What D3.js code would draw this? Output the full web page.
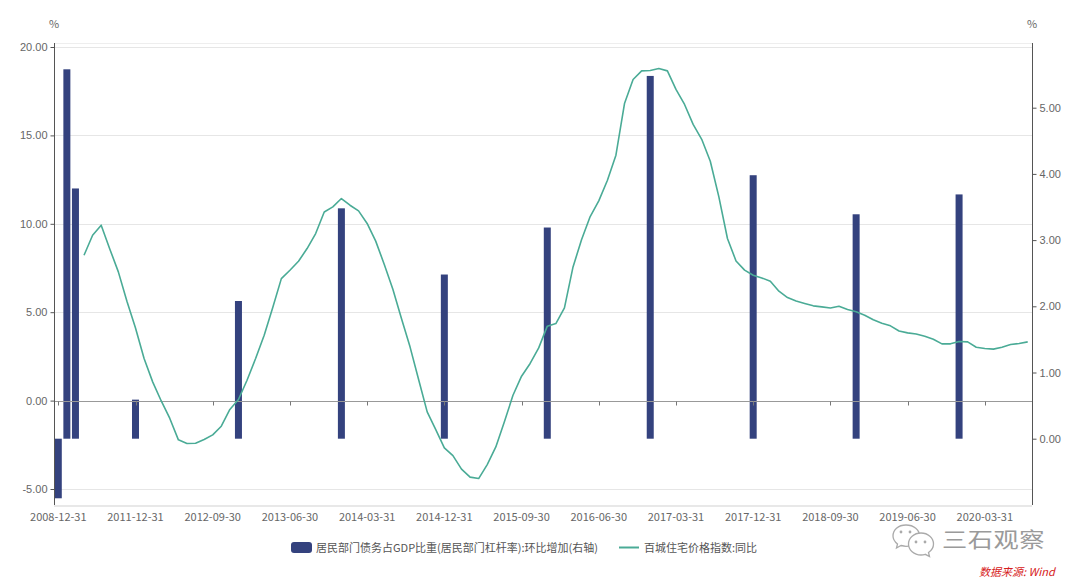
<!DOCTYPE html>
<html><head><meta charset="utf-8">
<script src="https://cdn.jsdelivr.net/npm/d3@7"></script>
<style>
html,body{margin:0;padding:0;background:#fff;}
svg{display:block;font-family:"Noto Sans CJK SC","Noto Sans",sans-serif;}
</style></head>
<body><svg id="c" width="1080" height="586"></svg>
<script>
const categories = [
"2008-12-31","2009-12-31","2010-12-31",
"2011-06-30","2011-07-31","2011-08-31","2011-09-30","2011-10-31","2011-11-30","2011-12-31",
"2012-01-31","2012-02-29","2012-03-31","2012-04-30","2012-05-31","2012-06-30","2012-07-31","2012-08-31","2012-09-30","2012-10-31","2012-11-30","2012-12-31",
"2013-01-31","2013-02-28","2013-03-31","2013-04-30","2013-05-31","2013-06-30","2013-07-31","2013-08-31","2013-09-30","2013-10-31","2013-11-30","2013-12-31",
"2014-01-31","2014-02-28","2014-03-31","2014-04-30","2014-05-31","2014-06-30","2014-07-31","2014-08-31","2014-09-30","2014-10-31","2014-11-30","2014-12-31",
"2015-01-31","2015-02-28","2015-03-31","2015-04-30","2015-05-31","2015-06-30","2015-07-31","2015-08-31","2015-09-30","2015-10-31","2015-11-30","2015-12-31",
"2016-01-31","2016-02-29","2016-03-31","2016-04-30","2016-05-31","2016-06-30","2016-07-31","2016-08-31","2016-09-30","2016-10-31","2016-11-30","2016-12-31",
"2017-01-31","2017-02-28","2017-03-31","2017-04-30","2017-05-31","2017-06-30","2017-07-31","2017-08-31","2017-09-30","2017-10-31","2017-11-30","2017-12-31",
"2018-01-31","2018-02-28","2018-03-31","2018-04-30","2018-05-31","2018-06-30","2018-07-31","2018-08-31","2018-09-30","2018-10-31","2018-11-30","2018-12-31",
"2019-01-31","2019-02-28","2019-03-31","2019-04-30","2019-05-31","2019-06-30","2019-07-31","2019-08-31","2019-09-30","2019-10-31","2019-11-30","2019-12-31",
"2020-01-31","2020-02-29","2020-03-31","2020-04-30","2020-05-31","2020-06-30","2020-07-31","2020-08-31"
];
const barDates = ["2008-12-31","2009-12-31","2010-12-31","2011-12-31","2012-12-31","2013-12-31","2014-12-31","2015-12-31","2016-12-31","2017-12-31","2018-12-31","2019-12-31"];
const barValues = [-0.90, 5.58, 3.78, 0.59, 2.08, 3.48, 2.48, 3.19, 5.48, 3.98, 3.39, 3.69];
const lineDates = categories.slice(3);
const lineValues = [
8.22, 9.35, 9.92, 8.58, 7.28, 5.62, 4.11,
2.38, 1.06, -0.02, -1.01, -2.22, -2.43, -2.41, -2.20, -1.94, -1.45, -0.50, 0.06,
1.15, 2.38, 3.70, 5.27, 6.90, 7.37, 7.88, 8.60, 9.45, 10.67, 10.96, 11.43,
11.05, 10.73, 10.02, 9.02, 7.70, 6.30, 4.64, 3.04, 1.19, -0.64, -1.64, -2.67,
-3.11, -3.88, -4.33, -4.41, -3.62, -2.62, -1.20, 0.30, 1.38, 2.10, 2.98, 4.21,
4.36, 5.24, 7.56, 9.11, 10.41, 11.30, 12.45, 13.88, 16.80, 18.16, 18.65, 18.67,
18.78, 18.65, 17.60, 16.75, 15.62, 14.78, 13.54, 11.52, 9.17, 7.90, 7.38, 7.09,
6.94, 6.75, 6.19, 5.83, 5.63, 5.49, 5.36, 5.30, 5.24, 5.34, 5.15, 5.02,
4.83, 4.57, 4.38, 4.23, 3.94, 3.83, 3.77, 3.64, 3.47, 3.21, 3.21, 3.34,
3.32, 3.02, 2.95, 2.91, 3.02, 3.17, 3.23, 3.32
];
const xTickLabels = ["2008-12-31","2011-12-31","2012-09-30","2013-06-30","2014-03-31","2014-12-31","2015-09-30","2016-06-30","2017-03-31","2017-12-31","2018-09-30","2019-06-30","2020-03-31"];
const leftTicks = [-5, 0, 5, 10, 15, 20];
const rightTicks = [0, 1, 2, 3, 4, 5];
const barName = "居民部门债务占GDP比重(居民部门杠杆率):环比增加(右轴)";
const lineName = "百城住宅价格指数:同比";

const barColor = "#34427e", lineColor = "#4aab96", textColor = "#666";
const L = 54, R = 1032, T = 43, B = 505;
const svg = d3.select("#c");

const x = d3.scaleBand().domain(categories).range([L, R]);
const cx = d => x(d) + x.bandwidth() / 2;
const yL = d3.scaleLinear().domain([-5, 20]).range([489, 47]);
const yR = d3.scaleLinear().domain([0, 5]).range([438.7, 107.7]);

// grid
svg.append("line").attr("x1", L).attr("x2", R).attr("y1", T + 0.5).attr("y2", T + 0.5).attr("stroke", "#eee");
svg.append("g").selectAll("line").data(leftTicks.filter(d => d !== 0)).join("line")
  .attr("x1", L).attr("x2", R).attr("y1", d => Math.round(yL(d)) + 0.5).attr("y2", d => Math.round(yL(d)) + 0.5)
  .attr("stroke", "#e6e6e6");
svg.append("rect").attr("x", L).attr("y", B).attr("width", R - L).attr("height", 2).attr("fill", "#e8e8e8");

// bars
svg.append("g").selectAll("rect").data(barDates.map((d, i) => ({d, v: barValues[i]}))).join("rect")
  .attr("x", d => cx(d.d) - 3.5).attr("width", 7)
  .attr("y", d => Math.min(yR(0), yR(d.v))).attr("height", d => Math.abs(yR(d.v) - yR(0)))
  .attr("fill", barColor);

// zero axis line
const y0 = Math.round(yL(0)) + 0.5;
svg.append("line").attr("x1", L).attr("x2", R).attr("y1", y0).attr("y2", y0).attr("stroke", "#999");
svg.append("g").selectAll("line").data(xTickLabels).join("line")
  .attr("x1", d => Math.round(cx(d)) + 0.5).attr("x2", d => Math.round(cx(d)) + 0.5)
  .attr("y1", y0).attr("y2", y0 + 4).attr("stroke", "#777");
svg.append("g").selectAll("text").data(xTickLabels).join("text")
  .attr("x", d => cx(d)).attr("y", 521).attr("text-anchor", "middle")
  .attr("font-size", 11).attr("fill", textColor).text(d => d);

// line
const line = d3.line().x(d => cx(d.d)).y(d => yL(d.v));
svg.append("path").datum(lineDates.map((d, i) => ({d, v: lineValues[i]})))
  .attr("d", line).attr("fill", "none").attr("stroke", lineColor).attr("stroke-width", 1.6)
  .attr("stroke-linejoin", "round");

// left axis
const gl = svg.append("g").attr("transform", `translate(${L + 0.5},0)`)
  .call(d3.axisLeft(yL).tickValues(leftTicks).tickFormat(d => d.toFixed(2)).tickSize(4).tickPadding(3));
gl.select(".domain").remove();
gl.selectAll(".tick line").attr("stroke", "#555");
gl.selectAll("text").attr("font-size", 11).attr("fill", textColor).attr("font-family", null);
svg.append("line").attr("x1", L + 0.5).attr("x2", L + 0.5).attr("y1", T).attr("y2", B).attr("stroke", "#555");

// right axis
const gr = svg.append("g").attr("transform", `translate(${R + 0.5},0)`)
  .call(d3.axisRight(yR).tickValues(rightTicks).tickFormat(d => d.toFixed(2)).tickSize(4).tickPadding(3));
gr.select(".domain").remove();
gr.selectAll(".tick line").attr("stroke", "#555");
gr.selectAll("text").attr("font-size", 11).attr("fill", textColor).attr("font-family", null);
svg.append("line").attr("x1", R + 0.5).attr("x2", R + 0.5).attr("y1", T).attr("y2", B).attr("stroke", "#555");

// unit labels
svg.append("text").attr("x", L).attr("y", 28).attr("text-anchor", "middle").attr("font-size", 11).attr("fill", textColor).text("%");
svg.append("text").attr("x", R).attr("y", 28).attr("text-anchor", "middle").attr("font-size", 11).attr("fill", textColor).text("%");

// legend
const lg = svg.append("g");
lg.append("rect").attr("x", 291).attr("y", 542).attr("width", 21).attr("height", 11).attr("rx", 3).attr("fill", barColor);
lg.append("text").attr("x", 316).attr("y", 551.5).attr("font-size", 11).attr("fill", "#555").text(barName);
lg.append("line").attr("x1", 619).attr("x2", 639).attr("y1", 547.5).attr("y2", 547.5).attr("stroke", lineColor).attr("stroke-width", 2);
lg.append("text").attr("x", 644).attr("y", 551.5).attr("font-size", 11).attr("fill", "#555").text(lineName);

// watermark
const wm = svg.append("g").attr("fill", "#fff").attr("stroke", "#aaa").attr("stroke-width", 1.3);
wm.append("path").attr("d", "M906,525 C898,525 893,530 893,536 C893,539.5 895,542 897.5,544 L896.5,548 L901,545.5 C903,546 904.5,546.3 906,546.3 C914,546.3 919.5,541.5 919.5,535.6 C919.5,530 914,525 906,525 Z");
wm.append("path").attr("d", "M921,533 C914,533 908.5,538 908.5,544 C908.5,550 914,555 921,555 C922.6,555 924,554.7 925.3,554.3 L929.5,556.5 L928.5,552.5 C931.5,550.5 933.5,547.5 933.5,544 C933.5,538 928,533 921,533 Z");
wm.selectAll("circle").data([[901,532],[910,532],[916,542],[925,542]]).join("circle")
  .attr("cx", d => d[0]).attr("cy", d => d[1]).attr("r", 1.4).attr("fill", "#aaa").attr("stroke", "none");
svg.append("text").attr("transform", "translate(942,547) scale(1.2,1)").attr("font-size", 21).attr("fill", "#9a9a9a")
  .attr("letter-spacing", 0.5).text("三石观察");
svg.append("text").attr("x", 979).attr("y", 576).attr("font-size", 11).attr("fill", "#d62020")
  .attr("font-style", "italic").text("数据来源: Wind");
</script></body></html>
